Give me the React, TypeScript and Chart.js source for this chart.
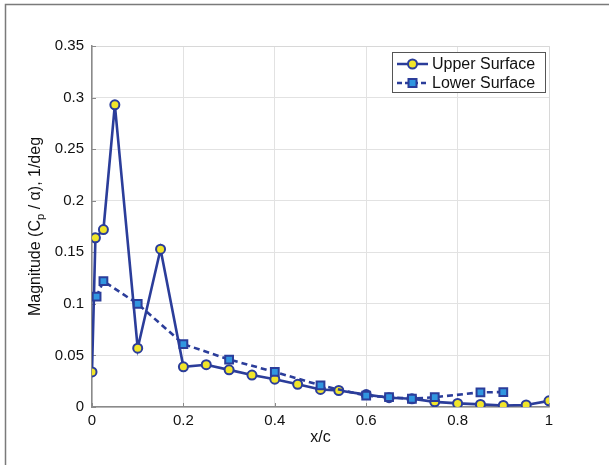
import React, { useEffect, useRef } from "react";
import { Chart, registerables } from "chart.js";

Chart.register(...registerables);

const upperX = [0, 0.0075, 0.025, 0.05, 0.1, 0.15, 0.2, 0.25, 0.3, 0.35, 0.4, 0.45, 0.5, 0.54, 0.6, 0.65, 0.7, 0.75, 0.8, 0.85, 0.9, 0.95, 1.0];
const upperY = [0.034, 0.164, 0.172, 0.293, 0.057, 0.153, 0.039, 0.041, 0.036, 0.031, 0.027, 0.022, 0.017, 0.016, 0.012, 0.009, 0.008, 0.005, 0.0035, 0.0025, 0.0015, 0.002, 0.006];
const lowerX = [0.01, 0.025, 0.1, 0.2, 0.3, 0.4, 0.5, 0.6, 0.65, 0.7, 0.75, 0.85, 0.9];
const lowerY = [0.107, 0.122, 0.1, 0.061, 0.046, 0.034, 0.021, 0.011, 0.0095, 0.008, 0.0095, 0.0142, 0.0145];
const seriesNames = ["Upper Surface", "Lower Surface"];
const xTitle = "x/c";
const yTitleParts = ["Magnitude (C", "p", " / \u03b1), 1/deg"];

const LINE = "#2b3d9a";
const YELLOW = "#f1e52a";
const BLUE = "#3196e0";
const FONT = "'Liberation Sans', Arial, sans-serif";

const framePlugin = {
  id: "frame",
  beforeDraw(chart: any) {
    const ctx = chart.ctx;
    ctx.save();
    ctx.fillStyle = "#fff";
    ctx.fillRect(0, 0, chart.width, chart.height);
    ctx.strokeStyle = "#7a7a7a";
    ctx.lineWidth = 1.5;
    ctx.strokeRect(5.5, 4.5, 900, 900);
    ctx.restore();
  },
};

const decorPlugin = {
  id: "decor",
  beforeDatasetsDraw(chart: any) {
    const ctx = chart.ctx;
    const a = chart.chartArea;
    const xs = chart.scales.x;
    const ys = chart.scales.y;
    ctx.save();
    // faint top/right box
    ctx.strokeStyle = "#d8d8d8";
    ctx.lineWidth = 1;
    ctx.beginPath();
    ctx.moveTo(a.left, a.top + 0.5);
    ctx.lineTo(a.right + 0.5, a.top + 0.5);
    ctx.lineTo(a.right + 0.5, a.bottom);
    ctx.stroke();
    // small inward ticks on left and bottom axes
    ctx.strokeStyle = "#8a8a8a";
    ctx.lineWidth = 1;
    ctx.beginPath();
    ys.ticks.forEach((t: any) => {
      const py = Math.round(ys.getPixelForValue(t.value)) + 0.5;
      ctx.moveTo(a.left, py);
      ctx.lineTo(a.left + 4, py);
    });
    xs.ticks.forEach((t: any) => {
      const px = Math.round(xs.getPixelForValue(t.value)) + 0.5;
      ctx.moveTo(px, a.bottom);
      ctx.lineTo(px, a.bottom - 4);
    });
    ctx.stroke();
    ctx.restore();
  },
  afterDraw(chart: any) {
    const ctx = chart.ctx;
    const a = chart.chartArea;
    ctx.save();
    // x title
    ctx.fillStyle = "#111";
    ctx.font = `16px ${FONT}`;
    ctx.textAlign = "center";
    ctx.textBaseline = "middle";
    ctx.fillText(xTitle, (a.left + a.right) / 2, 438);

    // y title with subscript
    const fs = 16;
    ctx.font = `${fs}px ${FONT}`;
    const w1 = ctx.measureText(yTitleParts[0]).width;
    ctx.font = `${fs * 0.7}px ${FONT}`;
    const w2 = ctx.measureText(yTitleParts[1]).width;
    ctx.font = `${fs}px ${FONT}`;
    const w3 = ctx.measureText(yTitleParts[2]).width;
    const total = w1 + w2 + w3;
    const cy = (a.top + a.bottom) / 2;
    ctx.translate(36, cy);
    ctx.rotate(-Math.PI / 2);
    let x = -total / 2;
    ctx.textAlign = "left";
    ctx.fillText(yTitleParts[0], x, 0);
    x += w1;
    ctx.font = `${fs * 0.7}px ${FONT}`;
    ctx.fillText(yTitleParts[1], x, 5);
    x += w2;
    ctx.font = `${fs}px ${FONT}`;
    ctx.fillText(yTitleParts[2], x, 0);
    ctx.restore();

    // legend
    ctx.save();
    const bx = 392.5, by = 52.5, bw = 153, bh = 40;
    ctx.fillStyle = "#fff";
    ctx.fillRect(bx, by, bw, bh);
    ctx.strokeStyle = "#555";
    ctx.lineWidth = 1;
    ctx.strokeRect(bx, by, bw, bh);
    const rows = [by + 11.5, by + 30.5];
    ctx.font = `16px ${FONT}`;
    ctx.textBaseline = "middle";
    ctx.textAlign = "left";
    rows.forEach((ry, i) => {
      ctx.strokeStyle = LINE;
      ctx.lineWidth = 2.5;
      ctx.setLineDash(i === 0 ? [] : [5, 3]);
      ctx.beginPath();
      ctx.moveTo(397, ry);
      ctx.lineTo(428, ry);
      ctx.stroke();
      ctx.setLineDash([]);
      ctx.lineWidth = 2;
      if (i === 0) {
        ctx.fillStyle = YELLOW;
        ctx.beginPath();
        ctx.arc(412.5, ry, 4.5, 0, Math.PI * 2);
        ctx.fill();
        ctx.stroke();
      } else {
        ctx.fillStyle = BLUE;
        ctx.fillRect(408.5, ry - 4, 8, 8);
        ctx.strokeRect(408.5, ry - 4, 8, 8);
      }
      ctx.fillStyle = "#111";
      ctx.fillText(seriesNames[i], 432, ry + 1);
    });
    ctx.restore();
  },
};

export default function App() {
  const ref = useRef<HTMLCanvasElement | null>(null);
  useEffect(() => {
    document.body.style.margin = "0";
    const canvas = ref.current!;
    const chart = new Chart(canvas, {
      type: "line",
      data: {
        datasets: [
          {
            label: seriesNames[0],
            data: upperX.map((x, i) => ({ x, y: upperY[i] })),
            borderColor: LINE,
            borderWidth: 2.6,
            pointStyle: "circle",
            pointRadius: 4.5,
            pointBorderWidth: 2,
            pointBackgroundColor: YELLOW,
            pointBorderColor: LINE,
            tension: 0,
            order: 2,
          },
          {
            label: seriesNames[1],
            data: lowerX.map((x, i) => ({ x, y: lowerY[i] })),
            borderColor: LINE,
            borderWidth: 2.6,
            borderDash: [6, 4],
            pointStyle: "rect",
            pointRadius: 5.5,
            pointBorderWidth: 2,
            pointBackgroundColor: BLUE,
            pointBorderColor: LINE,
            tension: 0,
            order: 1,
          },
        ],
      },
      options: {
        animation: false,
        responsive: false,
        devicePixelRatio: 1,
        layout: { padding: { left: 0, top: 46, right: 60, bottom: 0 } },
        plugins: { legend: { display: false }, tooltip: { enabled: false } },
        scales: {
          x: {
            type: "linear",
            min: 0,
            max: 1,
            ticks: {
              stepSize: 0.2,
              padding: 5,
              color: "#111",
              font: { family: FONT, size: 15 },
              callback: (v: any) => String(Number(Number(v).toFixed(2))),
              maxRotation: 0,
            },
            grid: { color: "#e2e2e2", drawTicks: false },
            border: { color: "#8a8a8a", width: 1.5 },
            title: { display: false },
            afterFit: (s: any) => { s.height = 58; },
          },
          y: {
            type: "linear",
            min: 0,
            max: 0.35,
            ticks: {
              stepSize: 0.05,
              padding: 8,
              color: "#111",
              font: { family: FONT, size: 15 },
              callback: (v: any) => String(Number(Number(v).toFixed(2))),
            },
            grid: { color: "#e2e2e2", drawTicks: false },
            border: { color: "#8a8a8a", width: 1.5 },
            afterFit: (s: any) => { s.width = 92; },
          },
        },
      },
      plugins: [framePlugin, decorPlugin],
    } as any);
    return () => chart.destroy();
  }, []);
  return <canvas ref={ref} width={609} height={465} style={{ display: "block", width: 609, height: 465 }} />;
}
